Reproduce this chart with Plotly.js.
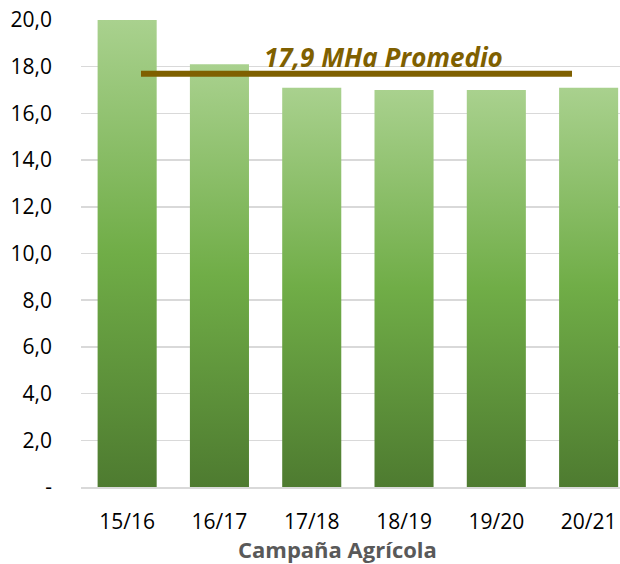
<!DOCTYPE html>
<html>
<head>
<meta charset="utf-8">
<script src="https://cdn.plot.ly/plotly-3.0.1.min.js"></script>
<style>
html,body{margin:0;padding:0;background:#fff;}
#chart{width:620px;height:564px;}
</style>
</head>
<body>
<div id="chart"></div>
<script>
// Data
const categories = ["15/16", "16/17", "17/18", "18/19", "19/20", "20/21"];
const values = [20.0, 18.1, 17.1, 17.0, 17.0, 17.1];
const yTickVals = [0, 2, 4, 6, 8, 10, 12, 14, 16, 18, 20];
const yTickText = ["-", "2,0", "4,0", "6,0", "8,0", "10,0", "12,0", "14,0", "16,0", "18,0", "20,0"];
const avgValue = 17.7;
const avgLabel = "17,9 MHa Promedio";
const xTitle = "Campaña Agrícola";

const FONT = "'Open Sans', sans-serif";

const trace = {
  type: "bar",
  x: categories,
  y: values,
  marker: { color: "#70AD47", line: { width: 0 } },
  hoverinfo: "none"
};

const layout = {
  width: 620,
  height: 564,
  margin: { l: 81, r: 0, t: 20, b: 77 },
  paper_bgcolor: "#ffffff",
  plot_bgcolor: "#ffffff",
  bargap: 0.36,
  showlegend: false,
  font: { family: FONT, color: "#000000" },
  xaxis: {
    type: "category",
    range: [-0.5, 5.34],
    showgrid: false,
    showline: true,
    linecolor: "#d9d9d9",
    linewidth: 1.5,
    ticks: "",
    ticklabelstandoff: 15,
    tickfont: { size: 21, family: FONT, color: "#000000" }
  },
  yaxis: {
    range: [0, 20],
    tickvals: yTickVals,
    ticktext: yTickText,
    showgrid: true,
    gridcolor: "#d9d9d9",
    gridwidth: 1.5,
    zeroline: false,
    showline: false,
    ticks: "",
    ticklabelstandoff: 28,
    tickfont: { size: 21, family: FONT, color: "#000000" }
  },
  shapes: [{
    type: "line",
    xref: "x", yref: "y",
    x0: 0.15, x1: 4.82,
    y0: avgValue, y1: avgValue,
    line: { color: "#7F6000", width: 6 }
  }],
  annotations: [{
    xref: "x", yref: "y",
    x: 2.78, y: 18.42,
    xanchor: "center", yanchor: "middle",
    showarrow: false,
    text: "<b><i>" + avgLabel + "</i></b>",
    font: { size: 26, family: FONT, color: "#7F6000" }
  }, {
    xref: "paper", yref: "paper",
    x: 0.476, y: -0.133,
    xanchor: "center", yanchor: "middle",
    showarrow: false,
    borderpad: 0,
    text: "<b>" + xTitle + "</b>",
    font: { size: 22, family: FONT, color: "#595959" }
  }]
};

function applyGradient(gd) {
  const svg = gd.querySelector("svg.main-svg");
  if (!svg) return;
  const ns = "http://www.w3.org/2000/svg";
  let defs = svg.querySelector("defs");
  if (!defs) { defs = document.createElementNS(ns, "defs"); svg.insertBefore(defs, svg.firstChild); }
  if (!svg.querySelector("#barGrad")) {
    const lg = document.createElementNS(ns, "linearGradient");
    lg.setAttribute("id", "barGrad");
    lg.setAttribute("x1", "0"); lg.setAttribute("y1", "0");
    lg.setAttribute("x2", "0"); lg.setAttribute("y2", "1");
    [["0%", "#A9D18E"], ["50%", "#70AD47"], ["100%", "#4E7B30"]].forEach(function (s) {
      const st = document.createElementNS(ns, "stop");
      st.setAttribute("offset", s[0]);
      st.setAttribute("stop-color", s[1]);
      lg.appendChild(st);
    });
    defs.appendChild(lg);
  }
  gd.querySelectorAll(".barlayer .point path").forEach(function (p) {
    p.style.fill = "url(#barGrad)";
  });
}

const gd = document.getElementById("chart");
Plotly.newPlot(gd, [trace], layout, { staticPlot: true, displayModeBar: false }).then(function () {
  applyGradient(gd);
});
</script>
</body>
</html>
